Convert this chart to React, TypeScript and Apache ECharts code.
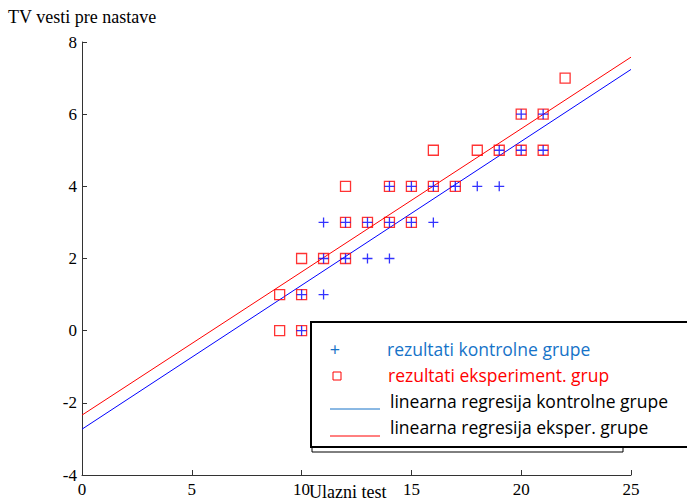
import React, { useEffect, useRef } from "react";
import * as echarts from "echarts";

const controlPoints: [number, number][] = [
  [20, 6], [21, 6],
  [19, 5], [20, 5], [21, 5],
  [14, 4], [15, 4], [16, 4], [17, 4], [18, 4], [19, 4],
  [11, 3], [12, 3], [13, 3], [14, 3], [15, 3], [16, 3],
  [11, 2], [12, 2], [13, 2], [14, 2],
  [10, 1], [11, 1],
  [10, 0],
];

const experimentPoints: [number, number][] = [
  [22, 7],
  [20, 6], [21, 6],
  [16, 5], [18, 5], [19, 5], [20, 5], [21, 5],
  [12, 4], [14, 4], [15, 4], [16, 4], [17, 4],
  [12, 3], [13, 3], [14, 3], [15, 3],
  [10, 2], [11, 2], [12, 2],
  [9, 1], [10, 1],
  [9, 0], [10, 0],
];

const controlRegression: [number, number][] = [[0, -2.73], [25, 7.24]];
const experimentRegression: [number, number][] = [[0, -2.34], [25, 7.58]];

const xTicks = [0, 5, 10, 15, 20, 25];
const yTicks = [-4, -2, 0, 2, 4, 6, 8];

const titleText = "TV vesti pre nastave";
const xName = "Ulazni test";
const legendLabels = [
  "rezultati kontrolne grupe",
  "rezultati eksperiment. grup",
  "linearna regresija kontrolne grupe",
  "linearna regresija eksper. grupe",
];

const SERIF = "'Liberation Serif', 'DejaVu Serif', serif";
const SANS = "'Open Sans', 'Noto Sans', sans-serif";
const BLUE = "#0000ff";
const RED = "#ff0000";
const LEG_BLUE = "#1673c8";

export default function App() {
  const ref = useRef<HTMLDivElement>(null);
  useEffect(() => {
    if (!ref.current) return;
    const chart = echarts.init(ref.current, null, { renderer: "svg" });
    const axisLine = { show: true, onZero: false, lineStyle: { color: "#333", width: 1 } };
    chart.setOption({
      animation: false,
      backgroundColor: "#fff",
      grid: { left: 82, right: 56, top: 42, bottom: 26, containLabel: false },
      xAxis: {
        type: "value",
        min: xTicks[0],
        max: xTicks[xTicks.length - 1],
        interval: 5,
        axisLine,
        axisTick: { show: true, inside: true, length: 5, lineStyle: { color: "#333" } },
        axisLabel: { color: "#000", fontFamily: SERIF, fontSize: 17, margin: 6 },
        splitLine: { show: false },
      },
      yAxis: {
        type: "value",
        min: yTicks[0],
        max: yTicks[yTicks.length - 1],
        interval: 2,
        axisLine,
        axisTick: { show: true, inside: true, length: 5, lineStyle: { color: "#333" } },
        axisLabel: { color: "#000", fontFamily: SERIF, fontSize: 17, margin: 5 },
        splitLine: { show: false },
      },
      series: [
        {
          type: "line",
          data: experimentRegression,
          symbol: "none",
          lineStyle: { color: RED, width: 1 },
          z: 2,
        },
        {
          type: "line",
          data: controlRegression,
          symbol: "none",
          lineStyle: { color: BLUE, width: 1 },
          z: 2,
        },
        {
          type: "scatter",
          data: experimentPoints,
          symbol: "rect",
          symbolSize: 10,
          itemStyle: { color: "transparent", borderColor: RED, borderWidth: 1.3 },
          z: 3,
        },
        {
          type: "scatter",
          data: controlPoints,
          symbol: "path://M5,0L5,10M0,5L10,5",
          symbolSize: 10,
          itemStyle: { color: "transparent", borderColor: BLUE, borderWidth: 1.3 },
          z: 4,
        },
      ],
      graphic: [
        {
          type: "text",
          left: 8,
          top: 8,
          style: { text: titleText, font: `18px ${SERIF}`, fill: "#000" },
        },
        {
          type: "text",
          x: 309,
          y: 483,
          style: { text: xName, font: `18px ${SERIF}`, fill: "#000" },
          z: 10,
        },
        {
          type: "polyline",
          shape: { points: [[312, 447], [312, 452], [623, 452], [623, 447]] },
          style: { stroke: "#000", lineWidth: 1, fill: "none" },
          z: 20,
        },
        {
          type: "rect",
          shape: { x: 311, y: 322, width: 420, height: 125 },
          style: { fill: "#fff", stroke: "#000", lineWidth: 2 },
          z: 21,
        },
        {
          type: "text",
          x: 335,
          y: 349,
          style: { text: "+", font: `18px ${SANS}`, fill: LEG_BLUE, textAlign: "center", textVerticalAlign: "middle" },
          z: 22,
        },
        {
          type: "rect",
          shape: { x: 333, y: 372, width: 8, height: 8 },
          style: { fill: "none", stroke: RED, lineWidth: 1 },
          z: 22,
        },
        {
          type: "line",
          shape: { x1: 330, y1: 409, x2: 380, y2: 409 },
          style: { stroke: LEG_BLUE, lineWidth: 1 },
          z: 22,
        },
        {
          type: "line",
          shape: { x1: 330, y1: 436, x2: 380, y2: 436 },
          style: { stroke: RED, lineWidth: 1 },
          z: 22,
        },
        {
          type: "text",
          x: 387,
          y: 349,
          style: { text: legendLabels[0], font: `17.5px ${SANS}`, fill: LEG_BLUE, textVerticalAlign: "middle" },
          z: 22,
        },
        {
          type: "text",
          x: 388,
          y: 375,
          style: { text: legendLabels[1], font: `17.5px ${SANS}`, fill: RED, textVerticalAlign: "middle" },
          z: 22,
        },
        {
          type: "text",
          x: 390,
          y: 401,
          style: { text: legendLabels[2], font: `17.5px ${SANS}`, fill: "#000", textVerticalAlign: "middle" },
          z: 22,
        },
        {
          type: "text",
          x: 390,
          y: 427,
          style: { text: legendLabels[3], font: `17.5px ${SANS}`, fill: "#000", textVerticalAlign: "middle" },
          z: 22,
        },
      ],
    });
    return () => chart.dispose();
  }, []);
  return <div ref={ref} style={{ width: 687, height: 501, position: "absolute", left: 0, top: 0 }} />;
}
